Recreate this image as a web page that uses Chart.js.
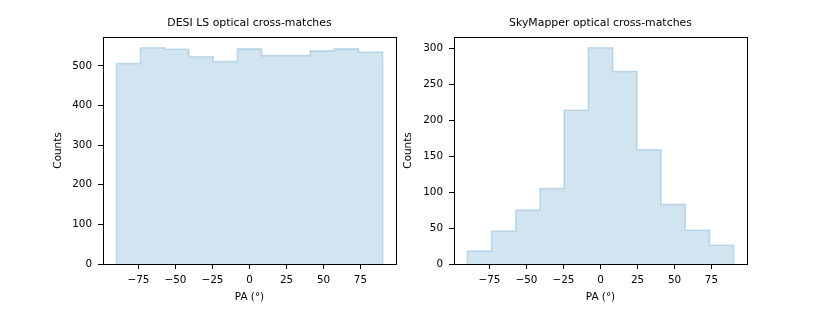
<!DOCTYPE html>
<html>
<head>
<meta charset="utf-8">
<script src="https://cdn.jsdelivr.net/npm/chart.js@4.4.1/dist/chart.umd.min.js"></script>
<style>
  html, body { margin: 0; padding: 0; background: #fff; }
  #wrap { position: relative; width: 830px; height: 311px; }
  .panel { position: absolute; top: 0; height: 311px; }
</style>
</head>
<body>
<div id="wrap">
  <div class="panel" style="left:0;width:400px"><canvas id="chart-desi"></canvas></div>
  <div class="panel" style="left:400px;width:430px"><canvas id="chart-sky"></canvas></div>
</div>
<script>
// histogram: 11 bins over PA -90..90
const binEdges = [-90, -73.64, -57.27, -40.91, -24.55, -8.18, 8.18, 24.55, 40.91, 57.27, 73.64, 90];
const desiCounts = [506, 546, 542, 523, 511, 543, 526, 526, 538, 543, 535];
const skyCounts  = [18, 46, 75, 105, 214, 301, 268, 159, 83, 47, 26];

const xTicks     = [-75, -50, -25, 0, 25, 50, 75];
const desiYTicks = [0, 100, 200, 300, 400, 500];
const skyYTicks  = [0, 50, 100, 150, 200, 250, 300];

const desiTitle = 'DESI LS optical cross-matches';
const skyTitle  = 'SkyMapper optical cross-matches';
const xLabel = 'PA (°)';
const yLabel = 'Counts';

const FONT = { family: 'DejaVu Sans', size: 10.4 };
const TITLE_FONT = { family: 'DejaVu Sans', size: 10.9, weight: 'normal', lineHeight: 1.2 };

// stepped outline points: up at first edge, across each bin, down at last edge
function stepPoints(edges, counts) {
  const pts = [{ x: edges[0], y: 0 }];
  counts.forEach((c, i) => pts.push({ x: edges[i], y: c }));
  pts.push({ x: edges[edges.length - 1], y: 0 });
  return pts;
}

function fmt(v) {
  return v < 0 ? '\u2212' + Math.abs(v) : String(v);
}

const framePlugin = {
  id: 'frame',
  afterDraw(chart) {
    const { ctx, chartArea: a } = chart;
    ctx.save();
    ctx.strokeStyle = '#000';
    ctx.lineWidth = 1;
    ctx.strokeRect(Math.round(a.left) + 0.5, Math.round(a.top) + 0.5,
                   Math.round(a.right - a.left), Math.round(a.bottom - a.top));
    ctx.restore();
  }
};

function makeHist(id, { title, counts, yTicks, yMax, yWidth, yTitlePad, padRight }) {
  const ctx = document.getElementById(id);
  return new Chart(ctx, {
    type: 'line',
    data: {
      datasets: [{
        data: stepPoints(binEdges, counts),
        stepped: true,
        fill: 'origin',
        backgroundColor: 'rgba(31,119,180,0.2)',
        borderColor: 'rgba(31,119,180,0.22)',
        borderWidth: 1.6,
        pointRadius: 0,
      }]
    },
    options: {
      responsive: true,
      maintainAspectRatio: false,
      animation: false,
      layout: { padding: { left: 0, right: padRight, top: 0, bottom: 0 } },
      plugins: {
        legend: { display: false },
        tooltip: { enabled: false },
        title: {
          display: true,
          text: title,
          fullSize: false,
          color: '#000',
          font: TITLE_FONT,
          padding: { top: 16.5, bottom: 7.4 },
        }
      },
      scales: {
        x: {
          type: 'linear',
          min: -99,
          max: 99,
          afterBuildTicks: s => { s.ticks = xTicks.map(v => ({ value: v })); },
          afterFit: s => { s.height = 47; },
          border: { display: false },
          grid: { drawOnChartArea: false, drawTicks: true, tickLength: 5, tickColor: '#000', tickWidth: 1 },
          ticks: { color: '#000', font: FONT, padding: 5, maxRotation: 0, callback: fmt },
          title: { display: true, text: xLabel, color: '#000', font: FONT, padding: { top: 0, bottom: 7 } }
        },
        y: {
          min: 0,
          max: yMax,
          afterBuildTicks: s => { s.ticks = yTicks.map(v => ({ value: v })); },
          afterFit: s => { s.width = yWidth; },
          border: { display: false },
          grid: { drawOnChartArea: false, drawTicks: true, tickLength: 5, tickColor: '#000', tickWidth: 1 },
          ticks: { color: '#000', font: FONT, padding: 6, callback: fmt },
          title: { display: true, text: yLabel, color: '#000', font: FONT, padding: { top: yTitlePad, bottom: 0 } }
        }
      }
    },
    plugins: [framePlugin]
  });
}

makeHist('chart-desi', { title: desiTitle, counts: desiCounts, yTicks: desiYTicks, yMax: 573, yWidth: 103, yTitlePad: 52, padRight: 4 });
makeHist('chart-sky',  { title: skyTitle,  counts: skyCounts,  yTicks: skyYTicks,  yMax: 316, yWidth: 54,  yTitlePad: 2.5, padRight: 83 });
</script>
</body>
</html>
